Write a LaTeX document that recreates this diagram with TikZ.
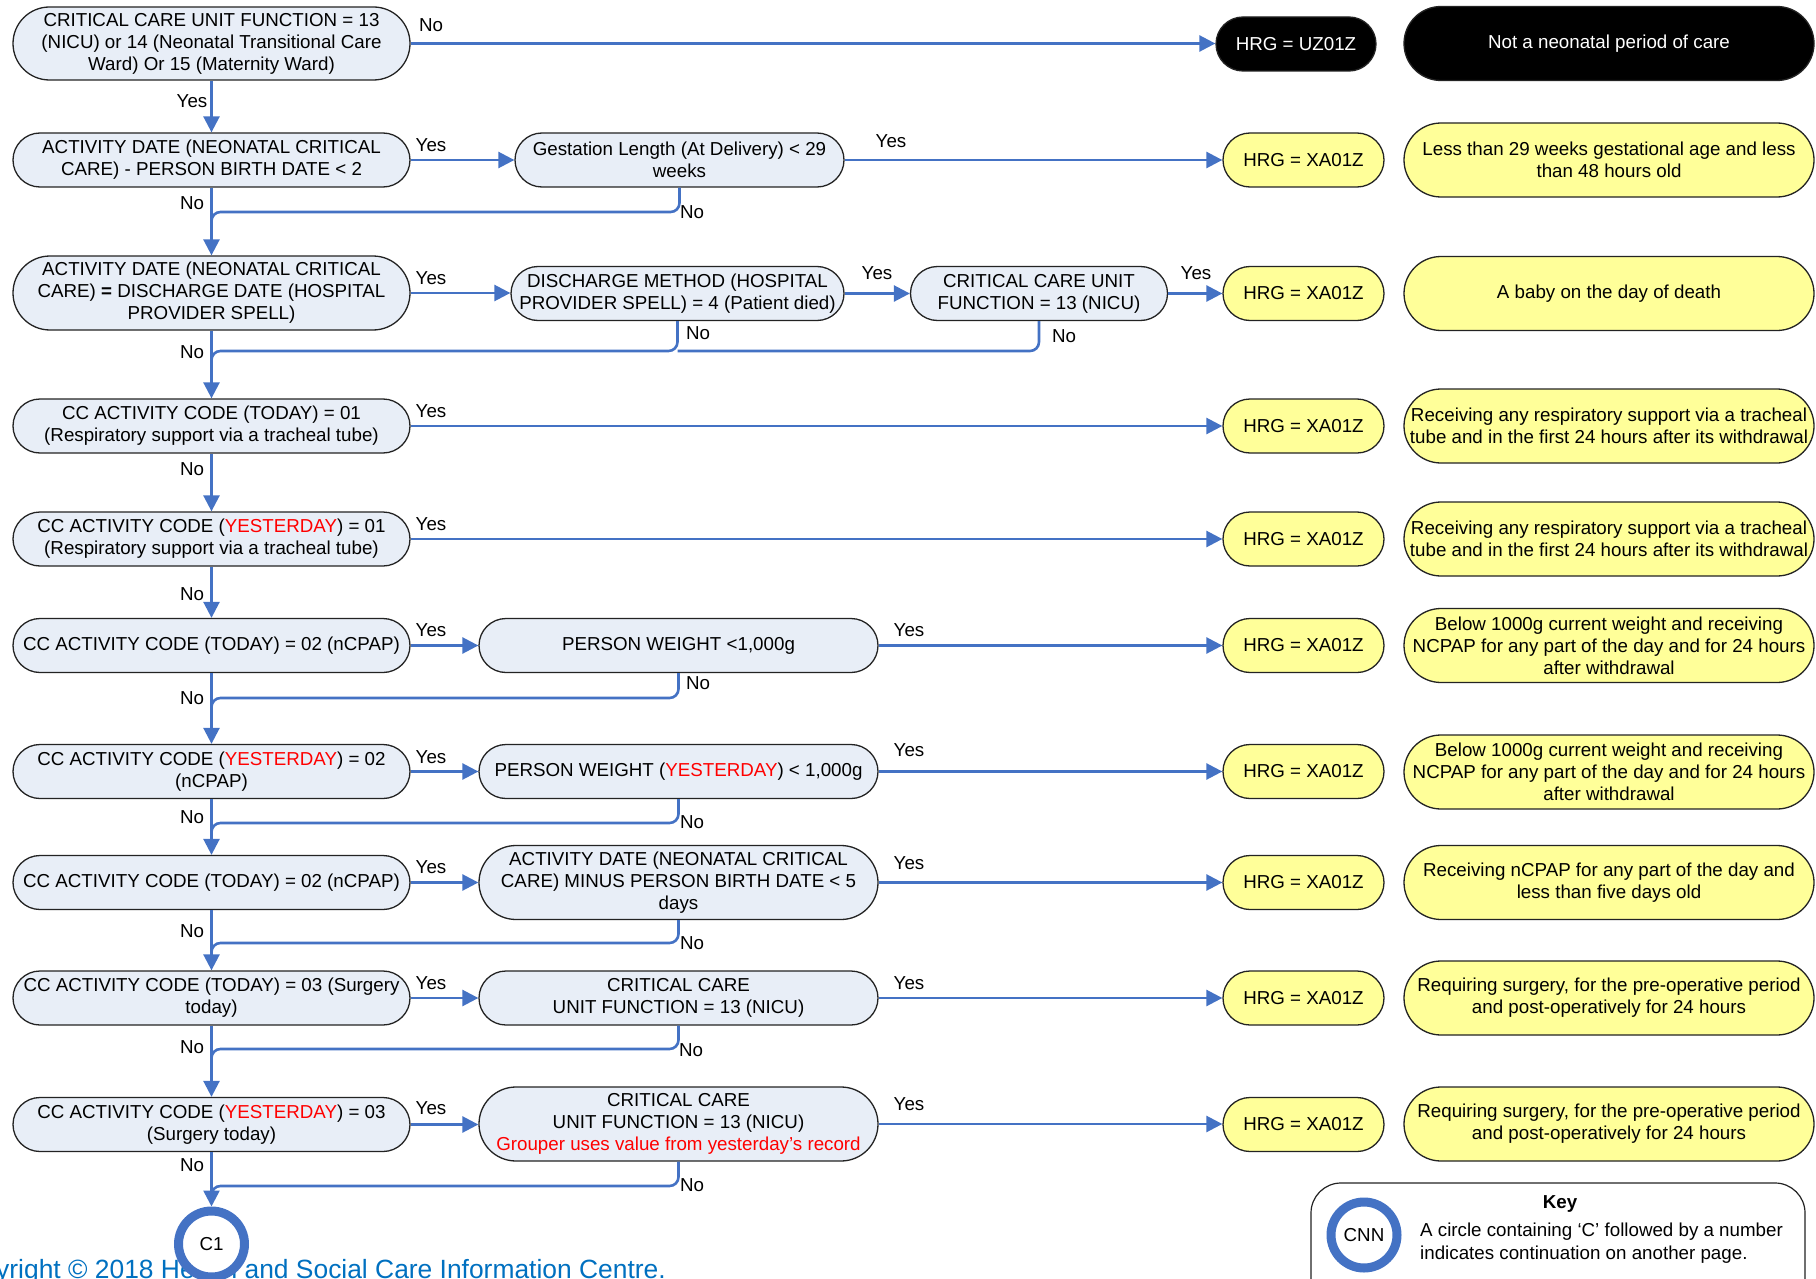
\documentclass[tikz,border=0pt]{standalone}
\usepackage{fontspec}
\setmainfont{Liberation Sans}
\usetikzlibrary{arrows.meta}

\definecolor{linkblue}{RGB}{68,114,196}
\definecolor{qfill}{RGB}{232,238,247}
\definecolor{yfill}{RGB}{255,255,153}
\definecolor{edge}{RGB}{35,35,35}
\definecolor{copyblue}{RGB}{0,112,192}
\definecolor{redtext}{RGB}{255,0,0}

\newcommand{\bodyfont}{\fontsize{18.75pt}{22pt}\selectfont}
\newcommand{\yday}{\textcolor{redtext}{YESTERDAY}}

\tikzset{
  box/.style={draw=edge, line width=1.3pt, align=center, inner sep=0pt, font=\bodyfont},
  qbox/.style={box, fill=qfill},
  ybox/.style={box, fill=yfill},
  kbox/.style={box, fill=black, text=white},
  sz/.style 2 args={minimum width=#1pt, minimum height=#2pt, rounded corners=#2pt/2},
  lbl/.style={inner sep=0pt, font=\bodyfont},
  link/.style={draw=linkblue, line width=2.6pt, rounded corners=9pt},
  flow/.style={draw=linkblue, line width=2.6pt, -{Triangle[length=16pt,width=16pt]}},
  ring/.style={circle, draw=linkblue, line width=9pt, fill=white, inner sep=0pt,
    minimum size=66pt, font=\bodyfont}
}

\begin{document}
\begin{tikzpicture}[x=1pt, y=-1pt]
\useasboundingbox (0,0) rectangle (1816,1279);
\clip (0,0) rectangle (1816,1279);

% ---- decision column ----
\node[qbox, sz={397}{73}] (q1) at (211.5,43.5)
  {CRITICAL CARE UNIT FUNCTION = 13\\(NICU) or 14 (Neonatal Transitional Care\\Ward) Or 15 (Maternity Ward)};
\node[qbox, sz={397}{54}] (q2) at (211.5,160)
  {ACTIVITY DATE (NEONATAL CRITICAL\\CARE) - PERSON BIRTH DATE < 2};
\node[qbox, sz={397}{74}] (q3) at (211.5,293)
  {ACTIVITY DATE (NEONATAL CRITICAL\\CARE) \textbf{=} DISCHARGE DATE (HOSPITAL\\PROVIDER SPELL)};
\node[qbox, sz={397}{54}] (q4) at (211.5,426)
  {CC ACTIVITY CODE (TODAY) = 01\\(Respiratory support via a tracheal tube)};
\node[qbox, sz={397}{54}] (q5) at (211.5,539)
  {CC ACTIVITY CODE (\yday) = 01\\(Respiratory support via a tracheal tube)};
\node[qbox, sz={397}{54}] (q6) at (211.5,645.5)
  {CC ACTIVITY CODE (TODAY) = 02 (nCPAP)};
\node[qbox, sz={397}{54}] (q7) at (211.5,771.5)
  {CC ACTIVITY CODE (\yday) = 02\\(nCPAP)};
\node[qbox, sz={397}{54}] (q8) at (211.5,882.5)
  {CC ACTIVITY CODE (TODAY) = 02 (nCPAP)};
\node[qbox, sz={397}{54}] (q9) at (211.5,998)
  {CC ACTIVITY CODE (TODAY) = 03 (Surgery\\today)};
\node[qbox, sz={397}{54}] (q10) at (211.5,1124.5)
  {CC ACTIVITY CODE (\yday) = 03\\(Surgery today)};

% ---- secondary checks ----
\node[qbox, sz={329}{54}] (m2) at (679.5,160)
  {Gestation Length (At Delivery) < 29\\weeks};
\node[qbox, sz={333}{54}] (m3) at (677.5,293.5)
  {DISCHARGE METHOD (HOSPITAL\\PROVIDER SPELL) = 4 (Patient died)};
\node[qbox, sz={257}{54}] (c3) at (1039,293.5)
  {CRITICAL CARE UNIT\\FUNCTION = 13 (NICU)};
\node[qbox, sz={399}{54}] (m6) at (678.5,645.5)
  {PERSON WEIGHT <1,000g};
\node[qbox, sz={399}{54}] (m7) at (678.5,771.5)
  {PERSON WEIGHT (\yday) < 1,000g};
\node[qbox, sz={399}{74}] (m8) at (678.5,882.5)
  {ACTIVITY DATE (NEONATAL CRITICAL\\CARE) MINUS PERSON BIRTH DATE < 5\\days};
\node[qbox, sz={399}{54}] (m9) at (678.5,998)
  {CRITICAL CARE\\UNIT FUNCTION = 13 (NICU)};
\node[qbox, sz={399}{74}] (m10) at (678.5,1124)
  {CRITICAL CARE\\UNIT FUNCTION = 13 (NICU)\\\textcolor{redtext}{Grouper uses value from yesterday’s record}};

% ---- HRG outcomes ----
\node[kbox, sz={160}{54}] (h1) at (1296,44) {HRG = UZ01Z};
\node[ybox, sz={161}{54}] (h2) at (1303.5,160) {HRG = XA01Z};
\node[ybox, sz={161}{54}] (h3) at (1303.5,293.5) {HRG = XA01Z};
\node[ybox, sz={161}{54}] (h4) at (1303.5,426) {HRG = XA01Z};
\node[ybox, sz={161}{54}] (h5) at (1303.5,539) {HRG = XA01Z};
\node[ybox, sz={161}{54}] (h6) at (1303.5,645.5) {HRG = XA01Z};
\node[ybox, sz={161}{54}] (h7) at (1303.5,771.5) {HRG = XA01Z};
\node[ybox, sz={161}{54}] (h8) at (1303.5,882.5) {HRG = XA01Z};
\node[ybox, sz={161}{54}] (h9) at (1303.5,998) {HRG = XA01Z};
\node[ybox, sz={161}{54}] (h10) at (1303.5,1124.5) {HRG = XA01Z};

% ---- descriptions ----
\node[kbox, sz={410}{74}] (d1) at (1609,43.5) {Not a neonatal period of care};
\node[ybox, sz={410}{74}] (d2) at (1609,160)
  {Less than 29 weeks gestational age and less\\than 48 hours old};
\node[ybox, sz={410}{74}] (d3) at (1609,293.5) {A baby on the day of death};
\node[ybox, sz={410}{74}] (d4) at (1609,426)
  {Receiving any respiratory support via a tracheal\\tube and in the first 24 hours after its withdrawal};
\node[ybox, sz={410}{74}] (d5) at (1609,539)
  {Receiving any respiratory support via a tracheal\\tube and in the first 24 hours after its withdrawal};
\node[ybox, sz={410}{74}] (d6) at (1609,645.5)
  {Below 1000g current weight and receiving\\NCPAP for any part of the day and for 24 hours\\after withdrawal};
\node[ybox, sz={410}{74}] (d7) at (1609,772)
  {Below 1000g current weight and receiving\\NCPAP for any part of the day and for 24 hours\\after withdrawal};
\node[ybox, sz={410}{74}] (d8) at (1609,882.5)
  {Receiving nCPAP for any part of the day and\\less than five days old};
\node[ybox, sz={410}{74}] (d9) at (1609,998)
  {Requiring surgery, for the pre-operative period\\and post-operatively for 24 hours};
\node[ybox, sz={410}{74}] (d10) at (1609,1124)
  {Requiring surgery, for the pre-operative period\\and post-operatively for 24 hours};

% ---- copyright line and continuation circle ----
\node[anchor=base east, inner sep=0pt, text=copyblue,
      font=\fontsize{26.4pt}{30pt}\selectfont] (copy) at (666,1278)
  {Copyright © 2018 Health and Social Care Information Centre.};
\node[ring] (c1) at (211.5,1244) {C1};

% ---- key ----
\node[draw=edge, line width=1.2pt, fill=white, minimum width=494pt, minimum height=134pt,
      rounded corners=30pt] (key) at (1558,1250) {};
\node[font=\bfseries\bodyfont, inner sep=0pt] (keyt) at (1560,1204) {Key};
\node[ring] (kc) at (1364,1235) {CNN};
\node[anchor=west, align=left, inner sep=0pt, font=\fontsize{18.75pt}{23pt}\selectfont] (keyx)
  at (1420,1243.5) {A circle containing ‘C’ followed by a number\\indicates continuation on another page.};

% ---- junctions on the main "No" spine ----
\coordinate (j2) at (211.5,212);
\coordinate (j3) at (211.5,351);
\coordinate (j6) at (211.5,698);
\coordinate (j7) at (211.5,823);
\coordinate (j8) at (211.5,943);
\coordinate (j9) at (211.5,1049);
\coordinate (j10) at (211.5,1186);

% ---- "No" branches returning to the spine ----
\draw[link, shorten >=14pt] (m2.south) |- (j2) -- (q3.north);
\draw[link, shorten >=14pt] (m3.south) |- (j3) -- (q4.north);
\draw[link] (c3.south) |- (m3.south |- j3);
\draw[link, shorten >=14pt] (m6.south) |- (j6) -- (q7.north);
\draw[link, shorten >=14pt] (m7.south) |- (j7) -- (q8.north);
\draw[link, shorten >=14pt] (m8.south) |- (j8) -- (q9.north);
\draw[link, shorten >=14pt] (m9.south) |- (j9) -- (q10.north);
\draw[link, shorten >=14pt] (m10.south) |- (j10) -- (c1.north);

% ---- spine ----
\draw[flow] (q1.south) -- (q2.north);
\draw[flow] (q2.south) -- (q3.north);
\draw[flow] (q3.south) -- (q4.north);
\draw[flow] (q4.south) -- (q5.north);
\draw[flow] (q5.south) -- (q6.north);
\draw[flow] (q6.south) -- (q7.north);
\draw[flow] (q7.south) -- (q8.north);
\draw[flow] (q8.south) -- (q9.north);
\draw[flow] (q9.south) -- (q10.north);
\draw[flow] (q10.south) -- (c1.north);

% ---- "Yes" paths ----
\draw[flow] (q1.east) -- (q1.east -| h1.west);
\draw[flow] (q2.east) -- (q2.east -| m2.west);
\draw[flow] (m2.east) -- (m2.east -| h2.west);
\draw[flow] (q3.east) -- (q3.east -| m3.west);
\draw[flow] (m3.east) -- (m3.east -| c3.west);
\draw[flow] (c3.east) -- (c3.east -| h3.west);
\draw[flow] (q4.east) -- (q4.east -| h4.west);
\draw[flow] (q5.east) -- (q5.east -| h5.west);
\draw[flow] (q6.east) -- (q6.east -| m6.west);
\draw[flow] (m6.east) -- (m6.east -| h6.west);
\draw[flow] (q7.east) -- (q7.east -| m7.west);
\draw[flow] (m7.east) -- (m7.east -| h7.west);
\draw[flow] (q8.east) -- (q8.east -| m8.west);
\draw[flow] (m8.east) -- (m8.east -| h8.west);
\draw[flow] (q9.east) -- (q9.east -| m9.west);
\draw[flow] (m9.east) -- (m9.east -| h9.west);
\draw[flow] (q10.east) -- (q10.east -| m10.west);
\draw[flow] (m10.east) -- (m10.east -| h10.west);

% ---- branch labels ----
\node[lbl] (n1) at (431,25) {No};
\node[lbl] (y1) at (192,101) {Yes};
\node[lbl] (y2) at (431,145) {Yes};
\node[lbl] (y2b) at (891,141) {Yes};
\node[lbl] (n2) at (192,203) {No};
\node[lbl, anchor=west] (n2b) at (680,212) {No};
\node[lbl] (y3) at (431,278) {Yes};
\node[lbl] (y3b) at (877,273) {Yes};
\node[lbl] (y3c) at (1196,273) {Yes};
\node[lbl, anchor=west] (n3b) at (686,333) {No};
\node[lbl, anchor=west] (n3c) at (1052,336) {No};
\node[lbl] (n3) at (192,352) {No};
\node[lbl] (y4) at (431,411) {Yes};
\node[lbl] (n4) at (192,469) {No};
\node[lbl] (y5) at (431,524) {Yes};
\node[lbl] (n5) at (192,594) {No};
\node[lbl] (y6) at (431,630) {Yes};
\node[lbl] (y6b) at (909,630) {Yes};
\node[lbl, anchor=west] (n6b) at (686,683) {No};
\node[lbl] (n6) at (192,698) {No};
\node[lbl] (y7) at (431,757) {Yes};
\node[lbl] (y7b) at (909,750) {Yes};
\node[lbl] (n7) at (192,817) {No};
\node[lbl, anchor=west] (n7b) at (680,822) {No};
\node[lbl] (y8) at (431,867) {Yes};
\node[lbl] (y8b) at (909,863) {Yes};
\node[lbl] (n8) at (192,931) {No};
\node[lbl, anchor=west] (n8b) at (680,943) {No};
\node[lbl] (y9) at (431,983) {Yes};
\node[lbl] (y9b) at (909,983) {Yes};
\node[lbl] (n9) at (192,1047) {No};
\node[lbl, anchor=west] (n9b) at (679,1050) {No};
\node[lbl] (y10) at (431,1108) {Yes};
\node[lbl] (y10b) at (909,1104) {Yes};
\node[lbl] (n10) at (192,1165) {No};
\node[lbl, anchor=west] (n10b) at (680,1185) {No};

\end{tikzpicture}
\end{document}
